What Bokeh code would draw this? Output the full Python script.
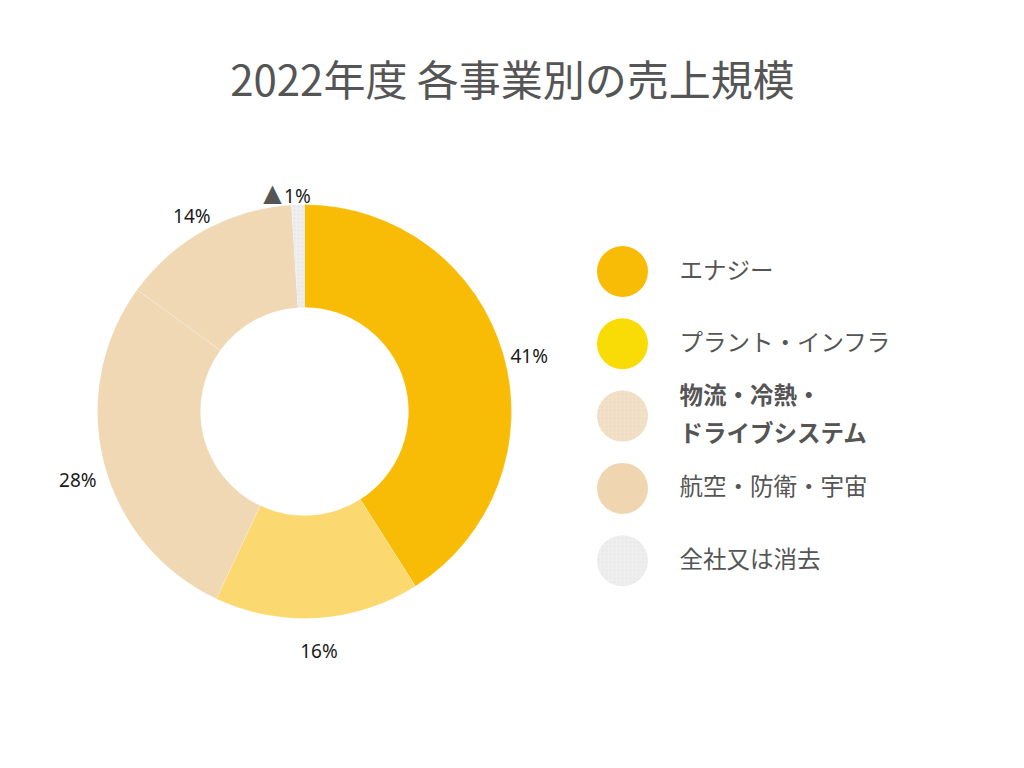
import math
from bokeh.plotting import figure
from bokeh.models import Range1d, ColumnDataSource
from bokeh.core.properties import value
from bokeh.embed import file_html
from bokeh.resources import INLINE

# ---- data ----
title = "2022年度 各事業別の売上規模"
segments = ["エナジー", "プラント・インフラ", "物流・冷熱・\nドライブシステム", "航空・防衛・宇宙", "全社又は消去"]
shares = [41, 16, 28, 14, 1]
pct_labels = ["41%", "16%", "28%", "14%", "1%"]
negative = [False, False, False, False, True]
highlight = [False, False, True, False, False]
wedge_colors = ["#F9BC06", "#FBD870", "#EFD8B3", "#EFD8B3", "#EEEEEE"]
legend_colors = ["#F9BC06", "#F9DC05", "#F2E1C8", "#EFD6B0", "#EEEEEE"]

W, H = 1024, 768
JP = value("Noto Sans CJK JP")

p = figure(width=W, height=H, output_backend="svg", toolbar_location=None,
           x_range=Range1d(0, W), y_range=Range1d(0, H), min_border=0)
p.axis.visible = False
p.grid.visible = False
p.outline_line_color = None
p.background_fill_color = "white"
p.border_fill_color = "white"

def Y(py):
    return H - py

# ---- donut ----
cx, cy = 304, Y(411)
r_out, r_in = 207, 104
total = sum(shares)
starts, ends, mids = [], [], []
cum = 0.0
for s in shares:
    a0 = math.pi / 2 - 2 * math.pi * (cum + s) / total
    a1 = math.pi / 2 - 2 * math.pi * cum / total
    starts.append(a0)
    ends.append(a1)
    mids.append(math.pi / 2 - 2 * math.pi * (cum + s / 2) / total)
    cum += s

wsrc = ColumnDataSource(dict(start=starts, end=ends, color=wedge_colors,
                             x=[cx] * len(shares), y=[cy] * len(shares)))
p.annular_wedge(x="x", y="y", inner_radius=r_in, outer_radius=r_out,
                start_angle="start", end_angle="end", fill_color="color",
                line_color="white", line_width=0.6, line_alpha=0.35, source=wsrc)
# faint dots on the corporate wedge
p.annular_wedge(x=cx, y=cy, inner_radius=r_in, outer_radius=r_out,
                start_angle=starts[4], end_angle=ends[4], fill_alpha=0,
                line_color=None, hatch_pattern="dot", hatch_color="#d8d8d8",
                hatch_scale=4, hatch_alpha=0.35)

# ---- percentage labels ----
lab_r = [234, 230, 234, 234, 226]
lx = [cx + r * math.cos(m) for r, m in zip(lab_r, mids)]
ly = [cy + r * math.sin(m) for r, m in zip(lab_r, mids)]
p.text(x=lx, y=ly, text=pct_labels, text_font=value("Noto Sans"),
       text_font_size="19px", text_color="#1a1a1a", text_align="center",
       text_baseline="middle", y_offset=10)
neg_x = [x for x, n in zip(lx, negative) if n]
neg_y = [y for y, n in zip(ly, negative) if n]
p.text(x=neg_x, y=neg_y, text=["▲"] * len(neg_x), text_font=value("DejaVu Sans"),
       text_font_size="24px", text_color="#555555", text_align="center",
       text_baseline="middle", x_offset=-25, y_offset=7)

# ---- title ----
p.text(x=[W / 2], y=[Y(77)], text=[title], text_font=JP, text_font_size="42px",
       text_color="#555555", text_align="center", text_baseline="middle")

# ---- legend ----
leg_x, leg_top, leg_step = 622, 271, 72.3
leg_y = [Y(leg_top + i * leg_step) for i in range(len(segments))]
p.circle(x=[leg_x] * len(segments), y=leg_y, radius=25.5, fill_color=legend_colors,
         line_color=None)
for i in (2, 4):
    p.circle(x=[leg_x], y=[leg_y[i]], radius=25.5, fill_alpha=0, line_color=None,
             hatch_pattern="dot", hatch_color="#e0c8a8" if i == 2 else "#d8d8d8",
             hatch_scale=4, hatch_alpha=0.3)

for bold in (False, True):
    idx = [i for i, h in enumerate(highlight) if h == bold]
    p.text(x=[679] * len(idx), y=[leg_y[i] for i in idx],
           text=[segments[i] for i in idx], text_font=JP, text_font_size="23.5px",
           text_font_style="bold" if bold else "normal", text_color="#555555",
           text_align="left", text_baseline="middle", text_line_height=1.12,
           y_offset=-3)

open("out.html", "w").write(file_html(p, INLINE))
